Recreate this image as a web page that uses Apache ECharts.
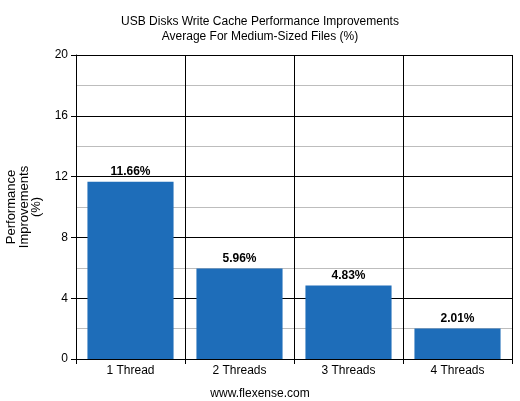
<!DOCTYPE html>
<html><head><meta charset="utf-8">
<script src="https://cdn.jsdelivr.net/npm/echarts@6/dist/echarts.min.js"></script>
<style>html,body{margin:0;padding:0;background:#fff}#c{width:520px;height:401px}</style>
</head><body><div id="c"></div>
<script>
const categories = ['1 Thread', '2 Threads', '3 Threads', '4 Threads'];
const values = [11.66, 5.96, 4.83, 2.01];
const yTicks = [0, 4, 8, 12, 16, 20];

const chart = echarts.init(document.getElementById('c'));
const F = 'Liberation Sans, Arial, sans-serif';
chart.setOption({
  animation: false,
  backgroundColor: '#fff',
  title: [{
    text: 'USB Disks Write Cache Performance Improvements\nAverage For Medium-Sized Files (%)',
    left: 'center', top: 9,
    textStyle: {fontFamily: F, fontSize: 12, fontWeight: 'normal', color: '#000', lineHeight: 15}
  }, {
    text: 'www.flexense.com', left: 'center', top: 383,
    textStyle: {fontFamily: F, fontSize: 12, fontWeight: 'normal', color: '#000'}
  }],
  grid: {left: 76, right: 8, top: 55, bottom: 42, containLabel: false, outerBoundsMode: 'none'},
  xAxis: {
    type: 'category', data: categories,
    axisLine: {lineStyle: {color: '#000', width: 1}},
    axisTick: {show: true, length: 5, lineStyle: {color: '#000'}},
    axisLabel: {color: '#000', fontFamily: F, fontSize: 12, margin: 6},
    splitLine: {show: true, lineStyle: {color: '#000', width: 1}}
  },
  yAxis: {
    type: 'value', min: yTicks[0], max: yTicks[yTicks.length - 1], interval: 4,
    name: 'Performance\nImprovements\n(%)', nameLocation: 'middle', nameGap: 33,
    nameTextStyle: {color: '#000', fontFamily: F, fontSize: 13, lineHeight: 12.5},
    axisLine: {show: true, lineStyle: {color: '#000'}},
    axisTick: {show: true, length: 5, lineStyle: {color: '#000'}},
    axisLabel: {color: '#000', fontFamily: F, fontSize: 12, margin: 8},
    splitLine: {show: true, lineStyle: {color: '#000', width: 1}},
    minorTick: {show: false, splitNumber: 2},
    minorSplitLine: {show: true, lineStyle: {color: '#bdbdbd', width: 1}}
  },
  series: [{
    type: 'bar', data: values, barWidth: '79%',
    itemStyle: {color: '#1e6db9'},
    label: {show: true, position: 'top', formatter: p => p.value.toFixed(2) + '%',
      color: '#000', fontFamily: F, fontSize: 12, fontWeight: 'bold', distance: 4}
  }]
});
</script></body></html>
